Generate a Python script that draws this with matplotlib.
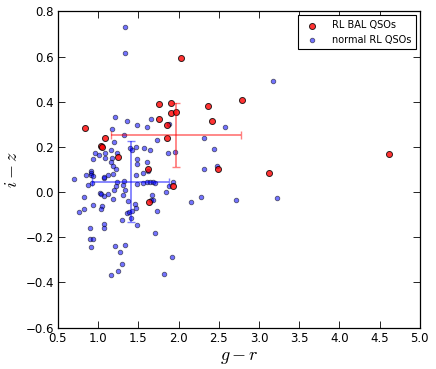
import matplotlib
matplotlib.use("Agg")
import matplotlib.pyplot as plt
import numpy as np

# RL BAL QSOs
bal_gr = [0.84, 1.08, 1.04, 1.05, 1.25, 1.62, 1.63, 1.93, 1.76, 1.90, 1.90, 1.97,
          1.76, 1.86, 1.86, 2.03, 2.37, 2.42, 2.49, 2.79, 3.12, 4.61]
bal_iz = [0.282, 0.241, 0.205, 0.200, 0.155, 0.102, -0.044, 0.028, 0.392, 0.396, 0.351, 0.356,
          0.322, 0.298, 0.238, 0.595, 0.380, 0.313, 0.102, 0.409, 0.085, 0.170]

# normal RL QSOs
nrm_gr = [1.333, 1.329, 3.169,
          1.205, 1.354, 1.482, 1.610, 1.660, 1.175, 1.320, 1.884, 2.575,
          1.735, 1.200, 2.319,
          1.40, 1.42, 1.470, 1.565, 1.648, 2.44,
          0.964, 1.01, 1.084, 1.084, 1.163, 1.237, 1.171, 1.155, 1.188, 1.226,
          0.935, 1.478, 1.610, 1.486, 1.867, 1.95,
          2.315, 2.481,
          1.118, 1.180, 0.844, 0.914, 0.914, 0.906, 0.703, 1.076, 1.076,
          1.623, 1.561, 1.470,
          0.931, 0.877, 0.918, 1.229, 1.196, 1.317, 1.304, 1.333, 1.221,
          1.478, 1.61, 1.64, 1.68, 1.705, 1.56,
          1.843, 1.876, 1.925,
          0.819, 0.765, 0.819, 0.939, 1.026, 1.034, 1.072, 1.117, 1.047, 1.035, 1.184, 1.308,
          1.370, 1.362, 1.387, 1.420, 1.453, 1.470, 1.404, 1.292, 1.478,
          1.665, 1.66, 1.685, 1.733, 1.712,
          1.072, 1.068, 0.898, 0.898, 0.935, 0.906, 1.212, 1.337, 1.266, 1.291, 1.241, 1.154, 1.814, 1.922,
          2.150, 2.274, 2.709, 3.226]
nrm_iz = [0.730, 0.617, 0.493,
          0.331, 0.315, 0.298, 0.289, 0.322, 0.278, 0.253, 0.300, 0.289,
          0.229, 0.223, 0.239,
          0.194, 0.186, 0.200, 0.196, 0.188, 0.189,
          0.174, 0.165, 0.174, 0.152, 0.185, 0.174, 0.151, 0.132, 0.117, 0.101,
          0.148, 0.148, 0.133, 0.124, 0.174, 0.177,
          0.104, 0.116,
          0.076, 0.081, 0.076, 0.092, 0.086, 0.077, 0.058, 0.064, 0.066,
          0.092, 0.083, 0.077,
          0.071, 0.031, 0.039, 0.045, 0.009, 0.048, 0.033, 0.009, 0.028,
          0.037, 0.043, 0.045, 0.045, 0.040, 0.042,
          -0.001, 0.028, 0.045,
          -0.020, -0.089, -0.076, -0.056, -0.005, -0.010, -0.017, -0.010, -0.060, -0.073, -0.031, -0.013,
          -0.039, -0.094, -0.089, -0.082, -0.054, -0.072, -0.116, -0.122, -0.144,
          -0.013, -0.035, -0.035, -0.082, -0.181,
          -0.141, -0.160, -0.157, -0.208, -0.208, -0.242, -0.237, -0.235, -0.266, -0.317, -0.349, -0.368, -0.362, -0.287,
          -0.045, -0.020, -0.035, -0.026]

# mean values with spread
bal_mean = (1.967, 0.253)
bal_err = (0.81, 0.143)
nrm_mean = (1.405, 0.047)
nrm_err = (0.478, 0.18)

xticks = [0.5, 1.0, 1.5, 2.0, 2.5, 3.0, 3.5, 4.0, 4.5, 5.0]
yticks = [-0.6, -0.4, -0.2, 0.0, 0.2, 0.4, 0.6, 0.8]

plt.rcParams['mathtext.fontset'] = 'cm'
plt.rcParams['font.family'] = ['DejaVu Sans']

fig = plt.figure(figsize=(4.36, 3.69), dpi=100)
ax = fig.add_axes([0.133, 0.112, 0.830, 0.857])

ax.scatter(nrm_gr, nrm_iz, s=11, c='#0000ff', alpha=0.55, edgecolors='k',
           linewidths=0.6, label='normal RL QSOs', zorder=2)
ax.scatter(bal_gr, bal_iz, s=19, c='#ff0000', alpha=0.8, edgecolors='k',
           linewidths=0.7, label='RL BAL QSOs', zorder=3)

ax.errorbar([nrm_mean[0]], [nrm_mean[1]], xerr=[nrm_err[0]], yerr=[nrm_err[1]],
            fmt='none', ecolor='#0000ff', alpha=0.5, elinewidth=1.3, capsize=3,
            capthick=1, zorder=4)
ax.errorbar([bal_mean[0]], [bal_mean[1]], xerr=[bal_err[0]], yerr=[bal_err[1]],
            fmt='none', ecolor='#ff0000', alpha=0.5, elinewidth=1.3, capsize=3,
            capthick=1, zorder=4)

ax.set_xlim(0.5, 5.0)
ax.set_ylim(-0.6, 0.8)
ax.set_xticks(xticks)
ax.set_yticks(yticks)
ax.tick_params(direction='in', top=True, right=True, length=5, width=0.6,
               labelsize=8.5, pad=3)
for sp in ax.spines.values():
    sp.set_linewidth(0.9)

ax.set_xlabel('$g-r$', fontsize=13, labelpad=2)
ax.set_ylabel('$i-z$', fontsize=13, labelpad=3)

handles, labels = ax.get_legend_handles_labels()
leg = ax.legend(handles[::-1], labels[::-1], loc='upper right', scatterpoints=1,
                fontsize=7, fancybox=False, framealpha=1, edgecolor='k',
                borderaxespad=0.4, handletextpad=1.0, borderpad=0.5,
                labelspacing=0.45, handlelength=2.0)
leg.get_frame().set_linewidth(0.8)

fig.savefig('out.png', dpi=100)
